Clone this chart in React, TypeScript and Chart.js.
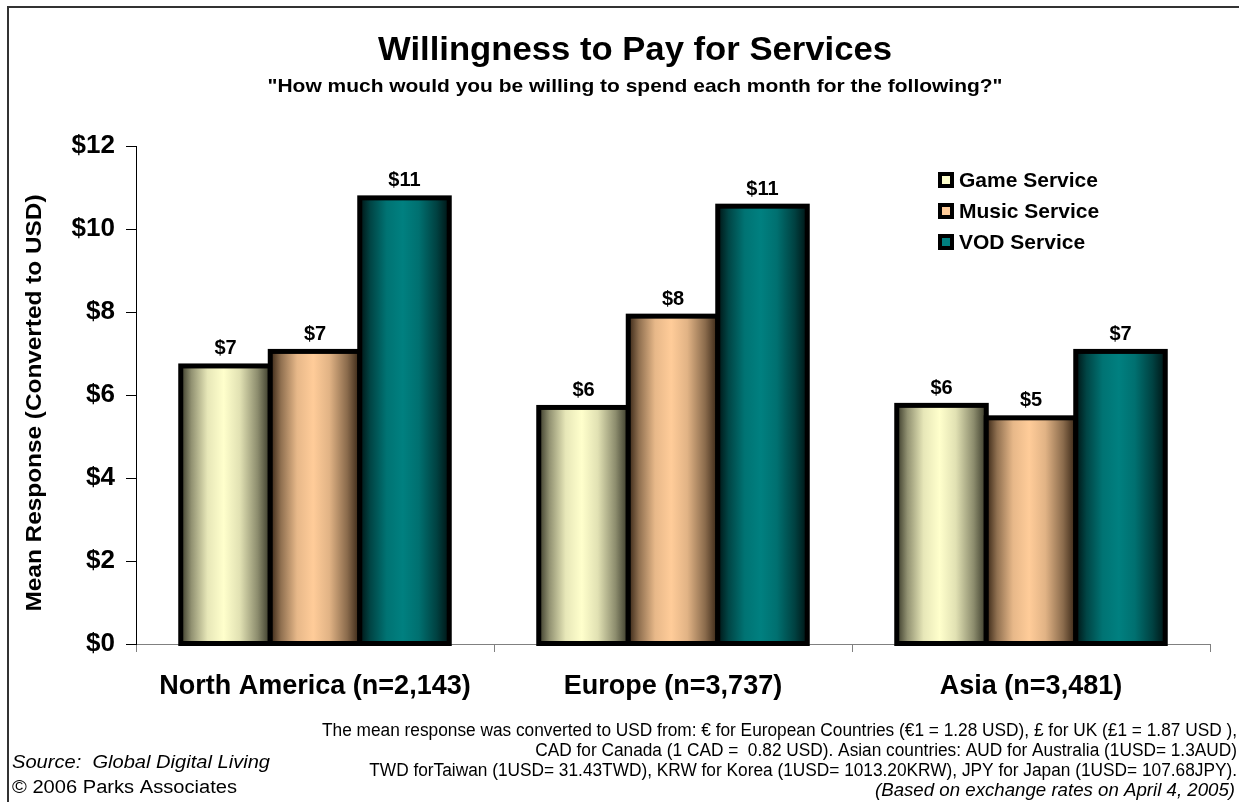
import { useEffect, useRef } from "react";
import { Chart, registerables } from "chart.js";

Chart.register(...registerables);

const categories = ["North America (n=2,143)", "Europe (n=3,737)", "Asia (n=3,481)"];
const seriesNames = ["Game Service", "Music Service", "VOD Service"];
const gameService = [6.7, 5.7, 5.75];
const musicService = [7.05, 7.9, 5.45];
const vodService = [10.75, 10.55, 7.05];
const yMin = 0;
const yMax = 12;
const yStep = 2;

const chartTitle = "Willingness to Pay for Services";
const chartSubtitle = "\"How much would you be willing to spend each month for the following?\"";
const yAxisTitle = "Mean Response (Converted to USD)";
const footnoteLines = [
  "The mean response was converted to USD from: \u20AC for European Countries (\u20AC1 = 1.28 USD), \u00A3 for UK (\u00A31 = 1.87 USD ),",
  "CAD for Canada (1 CAD =  0.82 USD). Asian countries: AUD for Australia (1USD= 1.3AUD)",
  "TWD forTaiwan (1USD= 31.43TWD), KRW for Korea (1USD= 1013.20KRW), JPY for Japan (1USD= 107.68JPY).",
];
const footnoteItalic = "(Based on exchange rates on April 4, 2005)";
const sourceLine = "Source:  Global Digital Living";
const copyrightLine = "\u00A9 2006 Parks Associates";

const lightColors = ["#FFFFCC", "#FFCC99", "#008080"];
const darkColors = ["#383828", "#362414", "#001414"];

const FONT = "'Liberation Sans', Arial, Helvetica, sans-serif";

function hexToRgb(h: string) {
  const n = parseInt(h.slice(1), 16);
  return [(n >> 16) & 255, (n >> 8) & 255, n & 255];
}
function mix(a: string, b: string, t: number) {
  const A = hexToRgb(a);
  const B = hexToRgb(b);
  const c = A.map((v, i) => Math.round(v + (B[i] - v) * t));
  return `rgb(${c[0]},${c[1]},${c[2]})`;
}

// draws text horizontally scaled so that it spans the given width
function fitText(ctx: CanvasRenderingContext2D, text: string, x: number, y: number, w: number, align: CanvasTextAlign) {
  const m = ctx.measureText(text).width;
  const s = m > 0 ? w / m : 1;
  ctx.save();
  ctx.translate(x, y);
  ctx.scale(s, 1);
  ctx.textAlign = align;
  ctx.fillText(text, 0, 0);
  ctx.restore();
}

const gradientBars = {
  id: "gradientBars",
  afterDatasetsDraw(chart: any) {
    const ctx = chart.ctx;
    ctx.save();
    chart.data.datasets.forEach((ds: any, di: number) => {
      const meta = chart.getDatasetMeta(di);
      meta.data.forEach((el: any) => {
        const { x, y, base, width } = el.getProps(["x", "y", "base", "width"], true);
        const left = x - width / 2;
        const g = ctx.createLinearGradient(left, 0, left + width, 0);
        const d = darkColors[di];
        const l = lightColors[di];
        g.addColorStop(0, d);
        g.addColorStop(0.12, mix(d, l, 0.45));
        g.addColorStop(0.3, mix(d, l, 0.88));
        g.addColorStop(0.48, l);
        g.addColorStop(0.66, mix(d, l, 0.85));
        g.addColorStop(0.86, mix(d, l, 0.42));
        g.addColorStop(1, d);
        ctx.fillStyle = g;
        ctx.fillRect(left, y, width, base - y);
        ctx.lineWidth = 5;
        ctx.strokeStyle = "#000000";
        ctx.strokeRect(left, y, width, base - y);
      });
    });
    ctx.fillStyle = "#000000";
    ctx.font = `bold 20px ${FONT}`;
    ctx.textAlign = "center";
    ctx.textBaseline = "middle";
    chart.data.datasets.forEach((ds: any, di: number) => {
      const meta = chart.getDatasetMeta(di);
      meta.data.forEach((el: any, i: number) => {
        const { x, y } = el.getProps(["x", "y"], true);
        ctx.fillText("$" + Math.round(ds.data[i]), x, y - 17);
      });
    });
    ctx.restore();
  },
};

const decorations = {
  id: "decorations",
  afterDraw(chart: any) {
    const ctx = chart.ctx as CanvasRenderingContext2D;
    ctx.save();
    // frame
    ctx.strokeStyle = "#333333";
    ctx.lineWidth = 2;
    ctx.beginPath();
    ctx.moveTo(8, 802);
    ctx.lineTo(8, 7);
    ctx.lineTo(1239, 7);
    ctx.stroke();

    ctx.fillStyle = "#000000";
    ctx.textBaseline = "middle";
    ctx.font = `bold 34px ${FONT}`;
    fitText(ctx, chartTitle, 635, 51, 514, "center");
    ctx.font = `bold 19px ${FONT}`;
    fitText(ctx, chartSubtitle, 635, 87, 735, "center");

    // y axis title
    ctx.save();
    ctx.translate(35, 403);
    ctx.rotate(-Math.PI / 2);
    ctx.font = `bold 22px ${FONT}`;
    fitText(ctx, yAxisTitle, 0, 0, 417, "center");
    ctx.restore();

    // legend
    const lx = 938;
    const ly = [180, 211, 242];
    ctx.textAlign = "left";
    ctx.font = `bold 21px ${FONT}`;
    seriesNames.forEach((name, i) => {
      ctx.fillStyle = "#000000";
      ctx.fillRect(lx, ly[i] - 8, 16, 16);
      ctx.fillStyle = lightColors[i];
      ctx.fillRect(lx + 4, ly[i] - 4, 8, 8);
      ctx.fillStyle = "#000000";
      ctx.fillText(name, lx + 21, ly[i] + 1);
    });

    // footnotes
    ctx.font = `18px ${FONT}`;
    const s = 915 / ctx.measureText(footnoteLines[0]).width;
    footnoteLines.forEach((t, i) => {
      const w = ctx.measureText(t).width * s;
      fitText(ctx, t, 1237, 731 + i * 20, w, "right");
    });
    ctx.font = `italic 18px ${FONT}`;
    fitText(ctx, footnoteItalic, 1235, 791, 360, "right");

    ctx.font = `italic 18px ${FONT}`;
    fitText(ctx, sourceLine, 12, 763, 258, "left");
    ctx.font = `18px ${FONT}`;
    fitText(ctx, copyrightLine, 12, 788, 225, "left");
    ctx.restore();
  },
};

export default function App() {
  const ref = useRef<HTMLCanvasElement>(null);
  useEffect(() => {
    if (!ref.current) return;
    const chart = new Chart(ref.current, {
      type: "bar",
      data: {
        labels: categories,
        datasets: [
          { label: seriesNames[0], data: gameService, backgroundColor: "rgba(0,0,0,0)", borderWidth: 0 },
          { label: seriesNames[1], data: musicService, backgroundColor: "rgba(0,0,0,0)", borderWidth: 0 },
          { label: seriesNames[2], data: vodService, backgroundColor: "rgba(0,0,0,0)", borderWidth: 0 },
        ],
      },
      options: {
        animation: false,
        responsive: true,
        maintainAspectRatio: false,
        layout: { padding: { top: 146, left: 0, right: 29, bottom: 0 } },
        plugins: {
          legend: { display: false },
          title: { display: false },
          tooltip: { enabled: false },
        },
        datasets: { bar: { categoryPercentage: 0.75, barPercentage: 1.0 } },
        scales: {
          x: {
            grid: { offset: true, drawOnChartArea: false, tickLength: 8, color: "#808080" },
            border: { color: "#808080", width: 1 },
            ticks: {
              color: "#000000",
              font: { family: FONT, size: 27, weight: "bold" },
              padding: 18,
              maxRotation: 0,
              autoSkip: false,
            },
            afterFit: (s: any) => {
              s.height = 158;
            },
          },
          y: {
            min: yMin,
            max: yMax,
            ticks: {
              stepSize: yStep,
              color: "#000000",
              font: { family: FONT, size: 26, weight: "bold" },
              padding: 11,
              callback: (v: any) => "$" + v,
            },
            grid: { drawOnChartArea: false, tickLength: 10, color: "#000000" },
            border: { color: "#000000", width: 1 },
            title: { display: false },
            afterFit: (s: any) => {
              s.width = 136;
            },
          },
        },
      },
      plugins: [gradientBars, decorations],
    });
    return () => chart.destroy();
  }, []);
  return (
    <div style={{ position: "absolute", left: 0, top: 0, width: 1239, height: 802, background: "#ffffff" }}>
      <canvas ref={ref} />
    </div>
  );
}
